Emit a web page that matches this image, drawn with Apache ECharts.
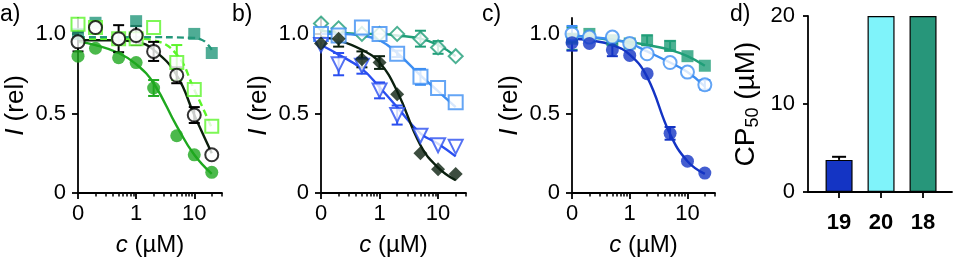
<!DOCTYPE html>
<html><head><meta charset="utf-8">
<script src="https://cdn.jsdelivr.net/npm/echarts@6/dist/echarts.min.js"></script>
<style>html,body{margin:0;padding:0;background:#fff}#c{width:956px;height:268px}</style>
</head><body><div id="c"></div>
<script>
// ---------- data ----------
const CONC = [0, 0.2, 0.5, 1, 2, 5, 10, 20];
const X_TICK_LABELS = ['0', '1', '10'];
const Y_TICK_LABELS = ['0', '0.5', '1.0'];
// panel a
const A_GREEN = [0.86, 0.91, 0.85, 0.82, 0.66, 0.36, 0.24, 0.13];
const A_GREEN_ERR = [0, 0, 0, 0, 0.05, 0, 0, 0];
const A_GREEN_FIT = [0.95, 0.93, 0.88, 0.81, 0.69, 0.42, 0.24, 0.12];
const A_BLACK = [0.95, 1.04, 0.97, 0.99, 0.89, 0.74, 0.49, 0.24];
const A_BLACK_ERR = [0.06, 0, 0.085, 0.06, 0.06, 0.05, 0.05, 0];
const A_BLACK_FIT = [0.96, 0.96, 0.96, 0.95, 0.9, 0.74, 0.49, 0.25];
const A_LIME = [1.06, 1.04, 0.97, 0.97, 1.04, 0.82, 0.65, 0.42];
const A_LIME_ERR = [0, 0, 0, 0, 0, 0.11, 0, 0];
const A_LIME_FIT = [0.97, 0.97, 0.97, 0.97, 0.96, 0.87, 0.65, 0.41];
const A_TEAL = [1.0, 1.07, null, 1.08, null, null, 1.0, 0.88];
const A_TEAL_FIT_CONC = [0, 1, 10, 13, 16, 20];
const A_TEAL_FIT = [0.98, 0.98, 0.975, 0.965, 0.945, 0.9];
// panel b
const B_TEAL = [1.065, 1.035, 1.0, 1.0, 1.0, 0.97, 0.915, 0.86];
const B_TEAL_ERR = [0, 0, 0, 0, 0, 0.05, 0.04, 0];
const B_TEAL_FIT = [1.02, 1.01, 1.0, 1.0, 0.99, 0.97, 0.93, 0.86];
const B_LBLUE = [1.0, 0.99, 1.04, 1.0, 0.875, 0.73, 0.66, 0.57];
const B_LBLUE_ERR = [0, 0, 0, 0, 0.02, 0.05, 0, 0];
const B_LBLUE_FIT = [1.0, 1.0, 0.99, 0.96, 0.88, 0.74, 0.64, 0.54];
const B_BLACK = [0.94, 0.97, 0.84, 0.82, 0.62, 0.25, 0.15, 0.12];
const B_BLACK_ERR = [0, 0.05, 0.05, 0.04, 0, 0, 0, 0];
const B_BLACK_FIT = [0.98, 0.96, 0.9, 0.82, 0.64, 0.3, 0.16, 0.08];
const B_BLUE = [0.93, 0.81, 0.8, 0.645, 0.49, 0.36, 0.3, 0.29];
const B_BLUE_ERR = [0, 0.07, 0.05, 0.05, 0.06, 0, 0, 0];
const B_BLUE_FIT = [0.93, 0.87, 0.78, 0.665, 0.54, 0.375, 0.31, 0.23];
// panel c
const C_TEAL = [0.97, 1.0, 0.96, 0.94, 0.96, 0.925, 0.86, 0.8];
const C_TEAL_ERR = [0.07, 0, 0, 0, 0.03, 0.03, 0, 0];
const C_TEAL_FIT = [0.99, 0.98, 0.96, 0.95, 0.93, 0.9, 0.86, 0.8];
const C_LBLUE = [1.0, 0.98, 0.98, 0.94, 0.875, 0.82, 0.76, 0.68];
const C_LBLUE_ERR = [0.05, 0, 0, 0, 0, 0, 0, 0.03];
const C_LBLUE_FIT = [0.99, 0.98, 0.965, 0.94, 0.89, 0.82, 0.76, 0.67];
const C_BLUE = [0.945, 0.94, 0.9, 0.865, 0.75, 0.375, 0.2, 0.125];
const C_BLUE_ERR = [0.05, 0, 0.04, 0, 0, 0.04, 0, 0];
const C_BLUE_FIT = [0.97, 0.96, 0.93, 0.87, 0.73, 0.37, 0.2, 0.12];
// panel d
const D_CATS = ['19', '20', '18'];
const D_VALUES = [3.65, 20, 20];
const D_ERR = [0.35, 0, 0];

// ---------- styling ----------
const FONT = 'Liberation Sans, Arial, Helvetica, sans-serif';
const ZERO_AT = 0.1; // position used for c = 0 on log axis
const COL = {
  green: '#1ea81e', black: '#0c1f0c', lime: '#5cf52a', teal: '#23977a',
  tealB: '#1f9e78', lblue: '#3d8ef2', blue: '#2a4ff0', dark: '#0b200f',
  cblue: '#1434c4', cyan: '#7ff3fa', dteal: '#27967a'
};
const MINOR = [0.2,0.3,0.4,0.5,0.6,0.7,0.8,0.9,2,3,4,5,6,7,8,9,20,30];
const MAJOR = [0.1, 1, 10];

function xpos(c){ return c === 0 ? ZERO_AT : c; }
function pts(xs, ys){ const o=[]; xs.forEach((c,i)=>{ if(ys[i]!=null) o.push([xpos(c), ys[i]]); }); return o; }
function errPts(xs, ys, es){ const o=[]; xs.forEach((c,i)=>{ if(ys[i]!=null && es[i]) o.push([xpos(c), ys[i], es[i]]); }); return o; }

const grids = [
  {left: 78, top: 18, width: 144, height: 175},
  {left: 321, top: 18, width: 145, height: 175},
  {left: 572, top: 18, width: 143, height: 175},
  {left: 808, top: 16, width: 144, height: 176}
];
const axisLine = {show: true, lineStyle: {color: '#000', width: 1.8}};
const labelStyle = {color: '#000', fontFamily: FONT, fontSize: 22};
const xAxes = [], yAxes = [];
[0,1,2].forEach(g => {
  xAxes.push({
    type: 'log', logBase: 10, gridIndex: g, min: 0.1, max: 30, position: 'bottom',
    axisLine, splitLine: {show: false},
    axisTick: {show: true, customValues: MAJOR, length: 6, lineStyle: {color: '#000', width: 1.8}},
    axisLabel: Object.assign({customValues: MAJOR, margin: 10,
      formatter: v => X_TICK_LABELS[MAJOR.findIndex(m => Math.abs(m - v) < 1e-6)]}, labelStyle),
    name: '{i|c} (µM)', nameLocation: 'middle', nameGap: 40,
    nameTextStyle: {color: '#000', fontFamily: FONT, fontSize: 24,
      rich: {i: {fontStyle: 'italic', fontFamily: FONT, fontSize: 24, color: '#000'}}}
  });
});
[0,1,2].forEach(g => {
  xAxes.push({
    type: 'log', logBase: 10, gridIndex: g, min: 0.1, max: 30, position: 'bottom', offset: 0,
    axisLine: {show: false}, splitLine: {show: false}, axisLabel: {show: false},
    axisTick: {show: true, customValues: MINOR, length: 3.5, lineStyle: {color: '#000', width: 1.5}}
  });
});
[0,1,2].forEach(g => {
  yAxes.push({
    type: 'value', gridIndex: g, min: 0, max: 1.1,
    axisLine, splitLine: {show: false},
    axisTick: {show: true, customValues: [0, 0.5, 1], length: 6, lineStyle: {color: '#000', width: 1.8}},
    axisLabel: Object.assign({customValues: [0, 0.5, 1], margin: 12,
      formatter: v => Y_TICK_LABELS[[0, 0.5, 1].indexOf(v)]}, labelStyle),
    name: '{i|I} (rel)', nameLocation: 'middle', nameGap: 49, nameRotate: 90,
    nameTextStyle: {color: '#000', fontFamily: FONT, fontSize: 26,
      rich: {i: {fontStyle: 'italic', fontFamily: FONT, fontSize: 26, color: '#000'}}}
  });
});
// panel d axes
xAxes.push({
  type: 'value', gridIndex: 3, min: 0.26, max: 3.69, axisLine, splitLine: {show: false},
  axisTick: {show: true, customValues: [1,2,3], length: 6, lineStyle: {color: '#000', width: 1.8}},
  axisLabel: Object.assign({customValues: [1,2,3], margin: 20, fontWeight: 'bold',
    formatter: v => D_CATS[Math.round(v) - 1]}, labelStyle)
});
yAxes.push({
  type: 'value', gridIndex: 3, min: 0, max: 20, interval: 10,
  axisLine, splitLine: {show: false},
  axisTick: {show: true, length: 5, lineStyle: {color: '#000', width: 1.8}},
  axisLabel: Object.assign({margin: 13}, labelStyle),
  name: 'CP{s|50} (µM)', nameLocation: 'middle', nameGap: 46, nameRotate: 90,
  nameTextStyle: {color: '#000', fontFamily: FONT, fontSize: 28,
    rich: {s: {fontSize: 18, verticalAlign: 'bottom', padding: [14, 0, 0, 0], fontFamily: FONT, color: '#000'}}}
});

const series = [];
function fit(g, xs, ys, color, dashed, z){
  series.push({type: 'line', xAxisIndex: g, yAxisIndex: g, data: pts(xs, ys), smooth: 0.45,
    symbol: 'none', silent: true, z: z || 2,
    lineStyle: {color, width: 2.4, type: dashed ? [7, 4] : 'solid'}});
}
function errs(g, ys, es, color){
  const d = errPts(CONC, ys, es);
  if (!d.length) return;
  series.push({type: 'custom', xAxisIndex: g, yAxisIndex: g, data: d, z: 3,
    renderItem: (p, api) => {
      const x = api.value(0), y = api.value(1), e = api.value(2);
      const t = api.coord([x, y + e]), b = api.coord([x, y - e]);
      const w = 5.5, st = {stroke: color, lineWidth: 2};
      return {type: 'group', children: [
        {type: 'line', shape: {x1: t[0], y1: t[1], x2: b[0], y2: b[1]}, style: st},
        {type: 'line', shape: {x1: t[0]-w, y1: t[1], x2: t[0]+w, y2: t[1]}, style: st},
        {type: 'line', shape: {x1: b[0]-w, y1: b[1], x2: b[0]+w, y2: b[1]}, style: st}
      ]};
    }});
}
function marks(g, ys, color, symbol, open, opts){
  opts = opts || {};
  series.push({type: 'scatter', xAxisIndex: g, yAxisIndex: g, data: pts(CONC, ys), z: opts.z || 4,
    symbol, symbolSize: opts.size || 13, symbolRotate: opts.rot || 0,
    itemStyle: open ? {color: '#fff', borderColor: color, borderWidth: 2}
                    : {color, borderColor: opts.border || color, borderWidth: opts.border ? 1 : 0}});
}
// panel a
fit(0, CONC, A_GREEN_FIT, COL.green);
fit(0, CONC, A_BLACK_FIT, COL.black);
fit(0, CONC, A_LIME_FIT, COL.lime, true);
fit(0, A_TEAL_FIT_CONC, A_TEAL_FIT, COL.teal, true);
marks(0, A_TEAL, COL.teal, 'rect', false, {size: 12});
marks(0, A_LIME, COL.lime, 'rect', true, {size: 13});
errs(0, A_LIME, A_LIME_ERR, COL.lime);
marks(0, A_GREEN, COL.green, 'circle', false, {size: 13});
errs(0, A_GREEN, A_GREEN_ERR, COL.green);
marks(0, A_BLACK, '#000', 'circle', true, {size: 13, z: 5});
errs(0, A_BLACK, A_BLACK_ERR, '#000');
// panel b
fit(1, CONC, B_TEAL_FIT, COL.tealB);
fit(1, CONC, B_LBLUE_FIT, COL.lblue);
fit(1, CONC, B_BLUE_FIT, COL.blue);
fit(1, CONC, B_BLACK_FIT, COL.dark);
marks(1, B_TEAL, COL.tealB, 'diamond', true, {size: 14});
errs(1, B_TEAL, B_TEAL_ERR, COL.tealB);
marks(1, B_LBLUE, COL.lblue, 'rect', true, {size: 14});
errs(1, B_LBLUE, B_LBLUE_ERR, COL.lblue);
marks(1, B_BLUE, COL.blue, 'triangle', true, {size: 14, rot: 180});
errs(1, B_BLUE, B_BLUE_ERR, COL.blue);
marks(1, B_BLACK, COL.dark, 'diamond', false, {size: 14, z: 5});
errs(1, B_BLACK, B_BLACK_ERR, COL.dark);
// panel c
fit(2, CONC, C_TEAL_FIT, COL.tealB);
fit(2, CONC, C_LBLUE_FIT, COL.lblue);
fit(2, CONC, C_BLUE_FIT, COL.cblue);
marks(2, C_TEAL, COL.tealB, 'rect', false, {size: 12});
errs(2, C_TEAL, C_TEAL_ERR, COL.tealB);
marks(2, C_LBLUE, COL.lblue, 'circle', true, {size: 13});
errs(2, C_LBLUE, C_LBLUE_ERR, COL.lblue);
marks(2, C_BLUE, COL.cblue, 'circle', false, {size: 13});
errs(2, C_BLUE, C_BLUE_ERR, COL.cblue);
// panel d
const D_COLORS = [COL.cblue, COL.cyan, COL.dteal];
series.push({type: 'bar', xAxisIndex: 6, yAxisIndex: 3, barWidth: 27, z: 2,
  data: D_VALUES.map((v, i) => ({value: [i + 1, v], itemStyle: {color: D_COLORS[i], borderColor: '#000', borderWidth: 1.2}}))});
series.push({type: 'custom', xAxisIndex: 6, yAxisIndex: 3, z: 3,
  data: D_VALUES.map((v, i) => [i + 1, v, D_ERR[i]]).filter(d => d[2] > 0),
  renderItem: (p, api) => {
    const x = api.value(0), y = api.value(1), e = api.value(2);
    const t = api.coord([x, y + e]), b = api.coord([x, y]);
    const st = {stroke: '#000', lineWidth: 2};
    return {type: 'group', children: [
      {type: 'line', shape: {x1: t[0], y1: t[1], x2: b[0], y2: b[1]}, style: st},
      {type: 'line', shape: {x1: t[0]-7, y1: t[1], x2: t[0]+7, y2: t[1]}, style: st}
    ]};
  }});

const PANEL_LABELS = ['a)', 'b)', 'c)', 'd)'];
const PANEL_X = [0, 232, 482, 730];
const chart = echarts.init(document.getElementById('c'), null, {renderer: 'canvas'});
chart.setOption({
  animation: false,
  grid: grids,
  xAxis: xAxes,
  yAxis: yAxes,
  series,
  graphic: PANEL_LABELS.map((t, i) => ({type: 'text', left: PANEL_X[i], top: 3,
    style: {text: t, font: '23px ' + FONT, fill: '#000'}}))
});
</script></body></html>
